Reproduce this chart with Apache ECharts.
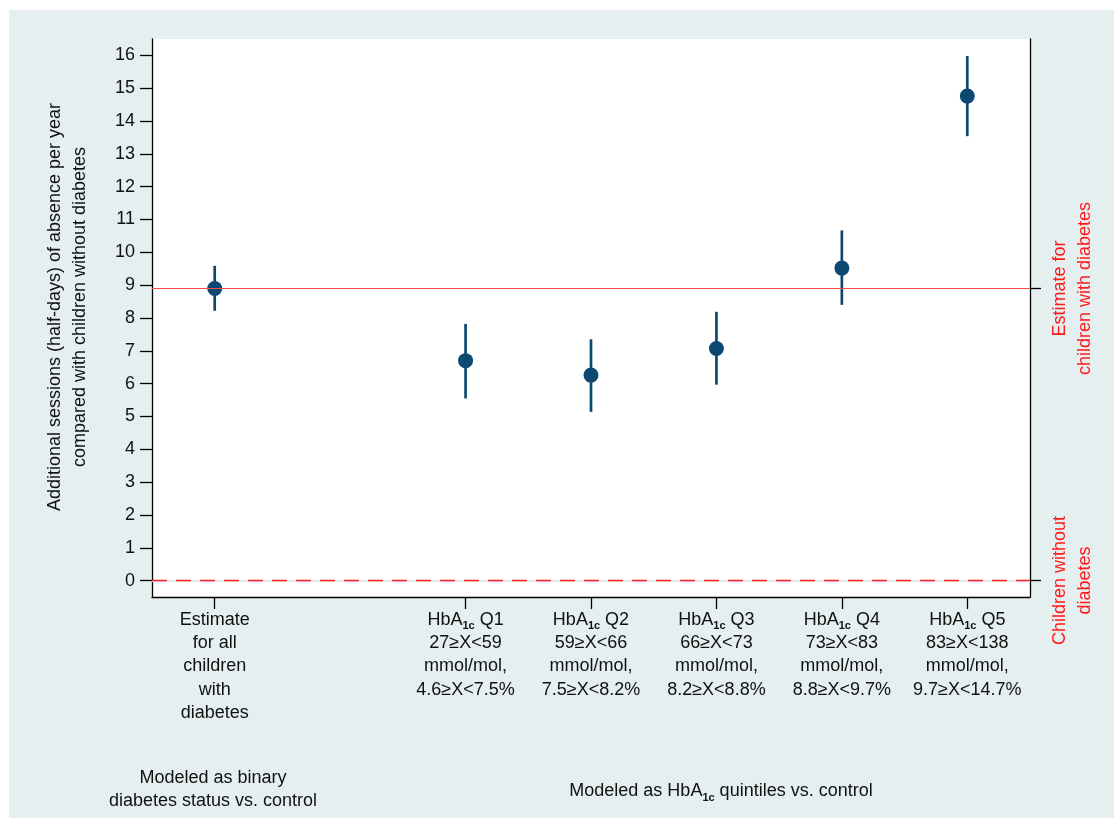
<!DOCTYPE html>
<html>
<head>
<meta charset="utf-8">
<script src="https://cdn.jsdelivr.net/npm/echarts@6/dist/echarts.min.js"></script>
<style>
  html, body { margin: 0; padding: 0; background: #ffffff; }
  #chart { position: absolute; left: 9px; top: 10px; width: 1105px; height: 808px; background: #e5eff0; }
</style>
</head>
<body>
<div id="chart"></div>
<script>
// Columns along the x axis; the empty one is a spacer between the two model groups.
const categories = ['overall', '', 'Q1', 'Q2', 'Q3', 'Q4', 'Q5'];

const categoryLabels = [
  'Estimate\nfor all\nchildren\nwith\ndiabetes',
  '',
  'HbA{s|1c} Q1\n27≥X<59\nmmol/mol,\n4.6≥X<7.5%',
  'HbA{s|1c} Q2\n59≥X<66\nmmol/mol,\n7.5≥X<8.2%',
  'HbA{s|1c} Q3\n66≥X<73\nmmol/mol,\n8.2≥X<8.8%',
  'HbA{s|1c} Q4\n73≥X<83\nmmol/mol,\n8.8≥X<9.7%',
  'HbA{s|1c} Q5\n83≥X<138\nmmol/mol,\n9.7≥X<14.7%'
];

// Additional half-day sessions of absence per year, with 95% CI
const estimates = [8.90, null, 6.70, 6.26, 7.07, 9.52, 14.76];
const lower     = [8.22, null, 5.55, 5.14, 5.97, 8.40, 13.54];
const upper     = [9.59, null, 7.82, 7.35, 8.19, 10.67, 15.98];

const yTicks = [0, 1, 2, 3, 4, 5, 6, 7, 8, 9, 10, 11, 12, 13, 14, 15, 16];

// Reference levels shown on the right-hand axis
const controlLevel = 0;
const diabetesLevel = estimates[0];
const referenceLabels = {
  control: 'Children without\ndiabetes',
  diabetes: 'Estimate for\nchildren with diabetes'
};

const FONT = '"Liberation Sans", Arial, Helvetica, sans-serif';
const FS = 18;
const INK = '#111111';
const MARK = '#0b4872';
const subStyle = { fontSize: 11, fontWeight: 'bold', fontFamily: FONT, color: INK, verticalAlign: 'bottom', lineHeight: 16 };

const chart = echarts.init(document.getElementById('chart'), null, { renderer: 'canvas' });

const pointData = categories.map((c, i) => estimates[i] == null ? null : [i, estimates[i]]).filter(Boolean);
const barData = categories.map((c, i) => lower[i] == null ? null : [i, lower[i], upper[i]]).filter(Boolean);

chart.setOption({
  backgroundColor: 'transparent',
  animation: false,
  textStyle: { fontFamily: FONT },
  title: [
    {
      text: 'Modeled as binary\ndiabetes status vs. control',
      left: 199, top: 752, textAlign: 'center',
      textStyle: { fontFamily: FONT, fontSize: FS, fontWeight: 'normal', color: INK, lineHeight: 23 }
    },
    {
      text: 'Modeled as HbA{s|1c} quintiles vs. control',
      left: 707, top: 765, textAlign: 'center',
      textStyle: { fontFamily: FONT, fontSize: FS, fontWeight: 'normal', color: INK, lineHeight: 23, rich: { s: subStyle } }
    }
  ],
  grid: {
    left: 143, right: 84, top: 29, bottom: 221,
    show: true, backgroundColor: '#ffffff', borderWidth: 0
  },
  xAxis: {
    type: 'category',
    data: categories,
    boundaryGap: true,
    axisLine: { show: true, onZero: false, lineStyle: { color: '#000', width: 1.3 } },
    axisTick: {
      show: true, alignWithLabel: true, length: 12,
      interval: (i) => categories[i] !== '',
      lineStyle: { color: '#000', width: 1.3 }
    },
    axisLabel: {
      interval: 0, margin: 11,
      fontSize: FS, lineHeight: 23.4, color: INK, fontFamily: FONT, align: 'center',
      formatter: (v, i) => categoryLabels[i],
      rich: { s: subStyle }
    },
    splitLine: { show: false }
  },
  yAxis: [
    {
      type: 'value', min: -0.5, max: 16.5, position: 'left',
      name: 'Additional sessions (half-days) of absence per year\ncompared with children without diabetes',
      nameLocation: 'middle', nameGap: 59, nameRotate: 90,
      nameTextStyle: { fontFamily: FONT, fontSize: FS, color: INK, lineHeight: 25, padding: [0, 0, 0, 22] },
      axisLine: { show: true, lineStyle: { color: '#000', width: 1.3 } },
      axisTick: { show: true, length: 12, customValues: yTicks, lineStyle: { color: '#000', width: 1.3 } },
      axisLabel: { customValues: yTicks, fontSize: FS, color: INK, margin: 17, fontFamily: FONT },
      splitLine: { show: false }
    },
    {
      type: 'value', min: -0.5, max: 16.5, position: 'right',
      axisLine: { show: true, lineStyle: { color: '#000', width: 1.3 } },
      axisTick: { show: true, length: 11, customValues: [controlLevel, diabetesLevel], lineStyle: { color: '#000', width: 1.3 } },
      axisLabel: {
        customValues: [controlLevel, diabetesLevel],
        rotate: 90, margin: 18, fontSize: FS, lineHeight: 25, color: '#ff1a1a', fontFamily: FONT,
        formatter: (v) => (Math.abs(v - controlLevel) < 1e-6 ? referenceLabels.control : referenceLabels.diabetes)
      },
      splitLine: { show: false }
    }
  ],
  series: [
    {
      // confidence intervals
      type: 'custom',
      data: barData,
      z: 3,
      renderItem: (params, api) => {
        const x = api.value(0);
        const lo = api.coord([x, api.value(1)]);
        const hi = api.coord([x, api.value(2)]);
        return {
          type: 'line',
          shape: { x1: lo[0], y1: lo[1], x2: hi[0], y2: hi[1] },
          style: { stroke: MARK, lineWidth: 2.7 }
        };
      },
      encode: { x: 0, y: [1, 2] },
      markLine: {
        silent: true, symbol: 'none', label: { show: false },
        data: [
          { yAxis: controlLevel, lineStyle: { color: '#e2eaec', width: 2, type: 'solid' } },
          { yAxis: controlLevel, lineStyle: { color: '#ff2020', width: 1.4, type: [15, 9] } },
          { yAxis: diabetesLevel, lineStyle: { color: '#ff4a4a', width: 1.2, type: 'solid' } }
        ]
      }
    },
    {
      // point estimates
      type: 'scatter',
      data: pointData,
      symbol: 'circle',
      symbolSize: 15,
      z: 4,
      itemStyle: { color: MARK, opacity: 1 }
    }
  ]
});
</script>
</body>
</html>
